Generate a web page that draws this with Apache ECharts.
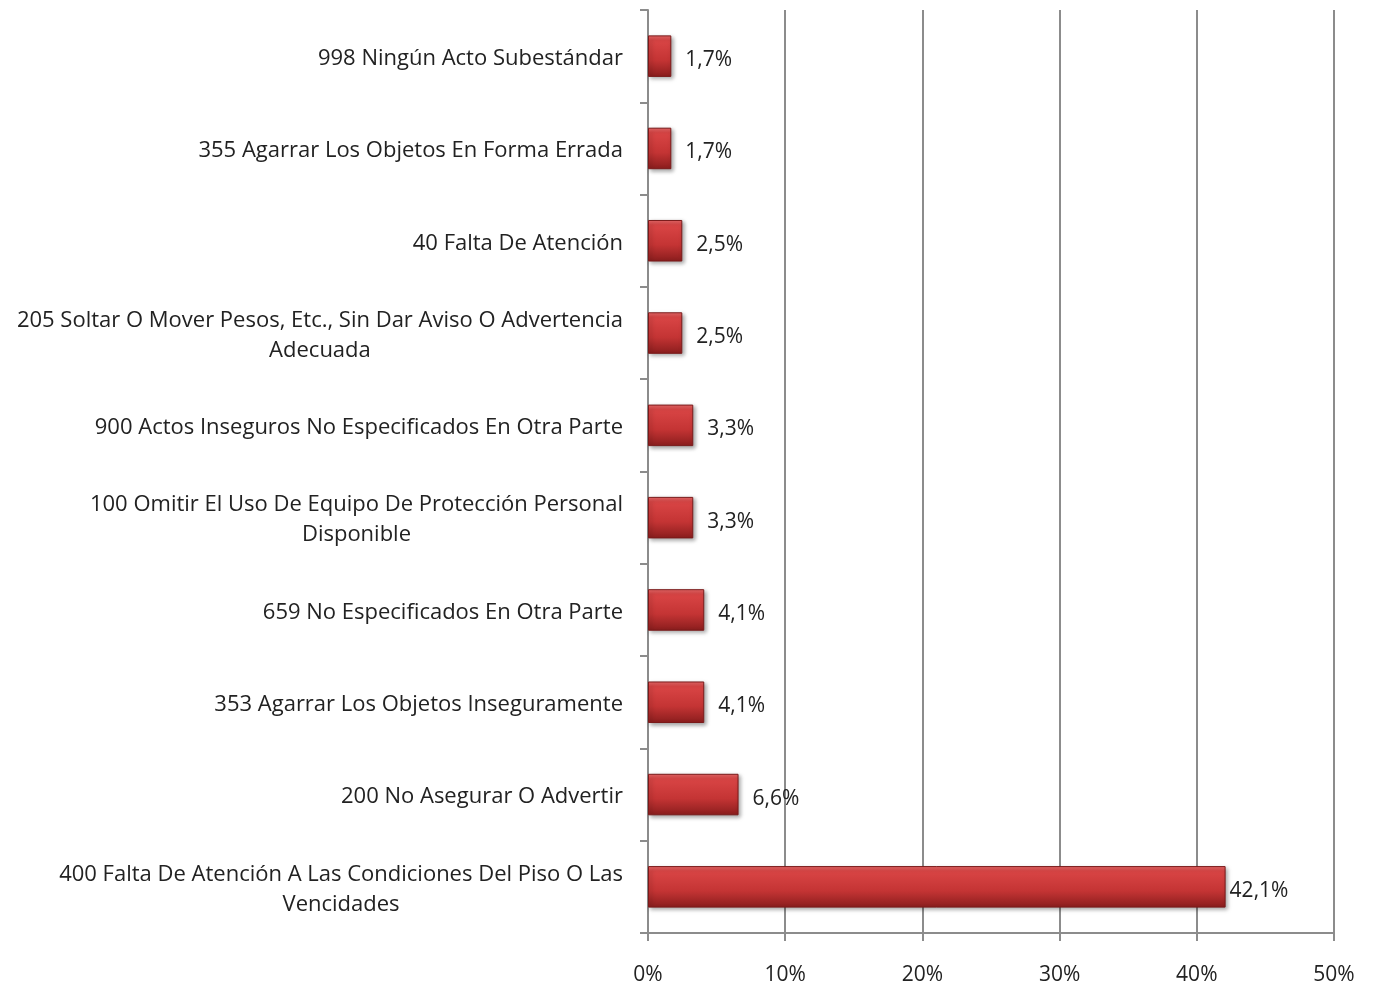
<!DOCTYPE html>
<html>
<head>
<meta charset="utf-8">
<script src="https://cdn.jsdelivr.net/npm/echarts@6/dist/echarts.min.js"></script>
<style>
  html, body { margin: 0; padding: 0; background: #fff; }
  #main { width: 1378px; height: 988px; }
</style>
</head>
<body>
<div id="main"></div>
<script>
// top to bottom, as in the chart
const categories = [
    '998 Ningún Acto Subestándar',
    '355 Agarrar Los Objetos En Forma Errada',
    '40 Falta De Atención',
    '205 Soltar O Mover Pesos, Etc., Sin Dar Aviso O Advertencia\nAdecuada',
    '900 Actos Inseguros No Especificados En Otra Parte',
    '100 Omitir El Uso De Equipo De Protección Personal\nDisponible',
    '659 No Especificados En Otra Parte',
    '353 Agarrar Los Objetos Inseguramente',
    '200 No Asegurar O Advertir',
    '400 Falta De Atención A Las Condiciones Del Piso O Las\nVencidades'
];
const percentages = [1.7, 1.7, 2.5, 2.5, 3.3, 3.3, 4.1, 4.1, 6.6, 42.1];
const xTicks = [0, 10, 20, 30, 40, 50];

const font = 'Open Sans';
const gray = '#8c8c8c';

const chart = echarts.init(document.getElementById('main'));
const option = {
    animation: false,
    grid: {
        left: 648,
        right: 44,
        top: 10,
        bottom: 55
    },
    xAxis: {
        type: 'value',
        min: xTicks[0],
        max: xTicks[xTicks.length - 1],
        interval: 10,
        axisLine: { show: true, lineStyle: { color: gray, width: 2 } },
        axisTick: { show: true, length: 8, lineStyle: { color: gray, width: 2 } },
        splitLine: { show: true, lineStyle: { color: gray, width: 2 } },
        axisLabel: {
            formatter: '{value}%',
            margin: 32,
            color: '#222',
            fontFamily: font,
            fontSize: 21
        }
    },
    yAxis: {
        type: 'category',
        inverse: true,
        data: categories,
        axisLine: { show: true, lineStyle: { color: gray, width: 2 } },
        axisTick: { show: true, length: 8, lineStyle: { color: gray, width: 2 } },
        axisLabel: {
            margin: 25,
            padding: [5, 0, 0, 0],
            formatter: function (value) {
                return value.split('\n').map(s => '{a|' + s + '}').join('\n');
            },
            rich: {
                a: {
                    align: 'center',
                    color: '#222',
                    fontFamily: font,
                    fontSize: 22,
                    lineHeight: 30
                }
            }
        }
    },
    series: [{
        type: 'bar',
        // the long bar's label sits right against it
        data: percentages.map(v => v > 40 ? { value: v, label: { distance: 4 } } : v),
        barWidth: '45%',
        itemStyle: {
            color: new echarts.graphic.LinearGradient(0, 0, 0, 1, [
                { offset: 0, color: '#ea6a6a' },
                { offset: 0.12, color: '#d94545' },
                { offset: 0.6, color: '#c43434' },
                { offset: 1, color: '#8a1d1d' }
            ]),
            borderColor: '#7a1a1a',
            borderWidth: 1,
            shadowColor: 'rgba(0,0,0,0.35)',
            shadowBlur: 4,
            shadowOffsetX: 2,
            shadowOffsetY: 2
        },
        label: {
            show: true,
            position: 'right',
            distance: 14,
            color: '#222',
            fontFamily: font,
            fontSize: 21,
            offset: [0, 4],
            formatter: p => String(p.value).replace('.', ',') + '%'
        }
    }]
};
chart.setOption(option);
</script>
</body>
</html>
